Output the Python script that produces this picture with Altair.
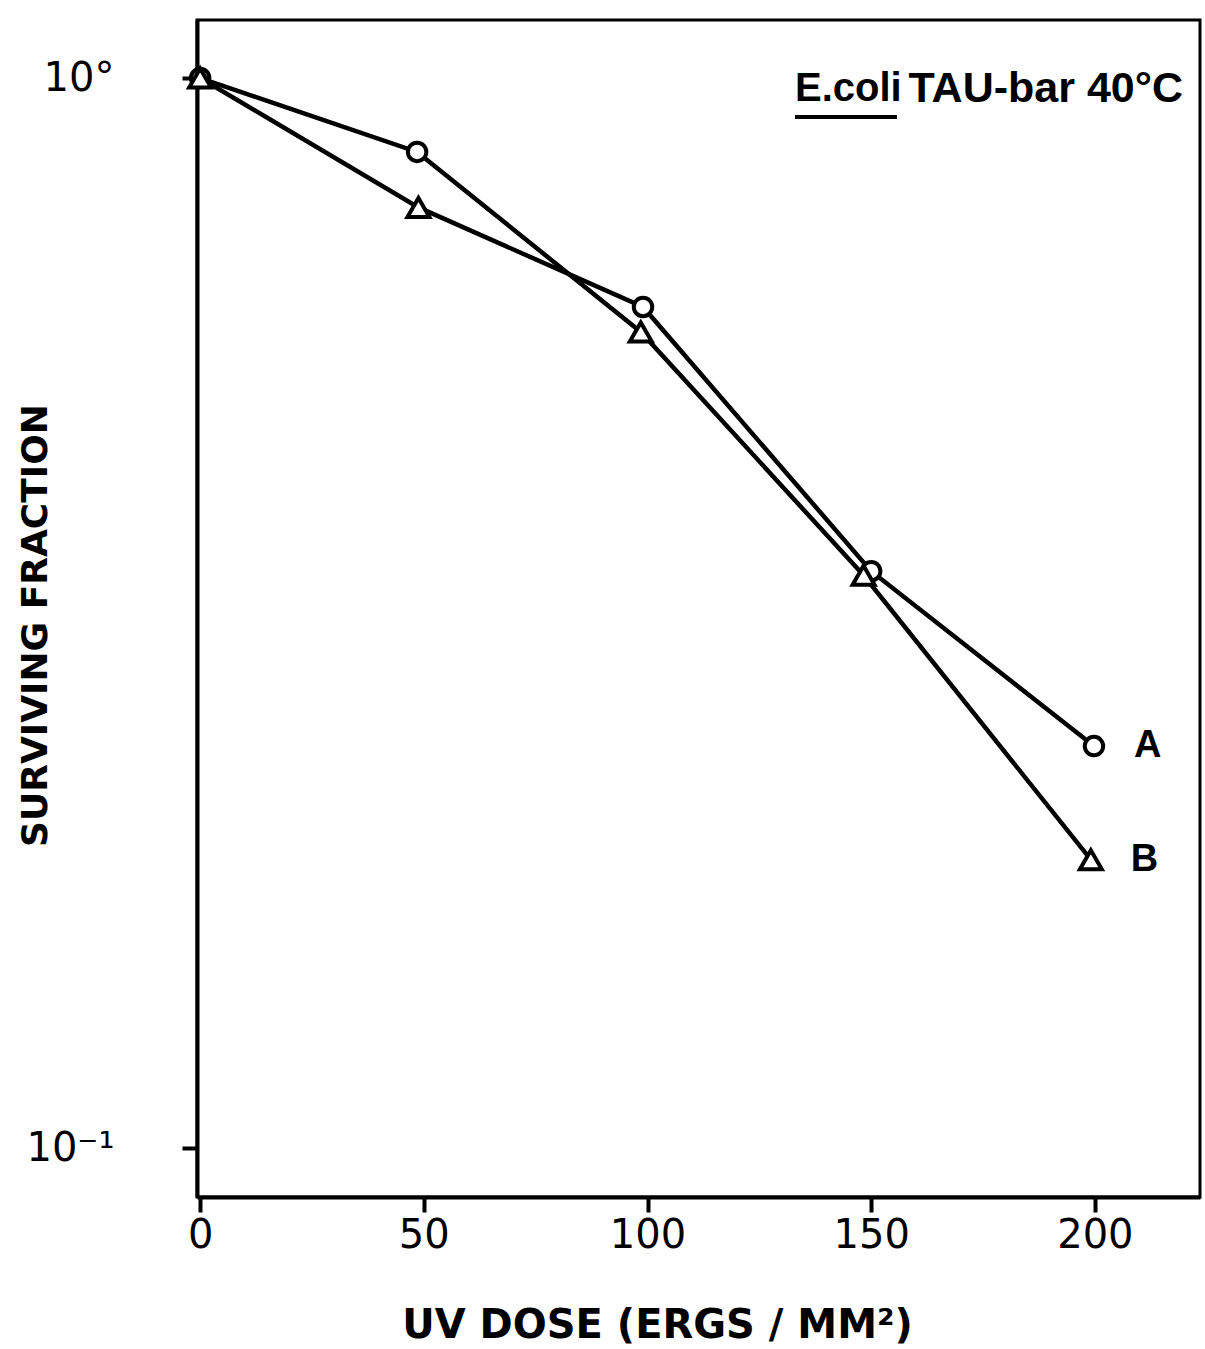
import altair as alt
import pandas as pd

# Data
dose_a = [0, 48.5, 99, 150, 199.8]          # circles (A)
surv_a = [1.0, 0.853, 0.611, 0.346, 0.2375]
dose_b = [0, 48.8, 98.5, 148.3, 199.1]      # triangles (B)
surv_b = [1.0, 0.757, 0.579, 0.343, 0.186]
series_names = ["A", "B"]
# In the original drawing the two connecting lines cross between 50 and 100:
# one line runs circle(50) -> triangle(100), the other triangle(50) -> circle(100)
path1_series = ["A", "A", "B", "B", "B"]
path2_series = ["B", "B", "A", "A", "A"]
y_tick_values = [0.1, 1.0]
x_tick_values = [0, 50, 100, 150, 200]
annotation_species = "E.coli"
annotation_rest = "TAU-bar 40°C"

pts = {"A": (dose_a, surv_a), "B": (dose_b, surv_b)}

df = pd.DataFrame(
    {
        "dose": dose_a + dose_b,
        "surv": surv_a + surv_b,
        "series": [series_names[0]] * len(dose_a) + [series_names[1]] * len(dose_b),
    }
)

rows = []
for pname, pser in (("p1", path1_series), ("p2", path2_series)):
    for i, s in enumerate(pser):
        rows.append({"path": pname, "idx": i, "dose": pts[s][0][i], "surv": pts[s][1][i]})
lines_df = pd.DataFrame(rows)

lab = pd.DataFrame(
    {
        "dose": [dose_a[-1], dose_b[-1]],
        "surv": [surv_a[-1], surv_b[-1]],
        "series": series_names,
    }
)

FONT = "DejaVu Sans"
ANN_FONT = "Liberation Sans"

x = alt.X(
    "dose:Q",
    scale=alt.Scale(domain=[-0.7, 223.5], nice=False, zero=False),
    axis=alt.Axis(
        values=x_tick_values,
        title="UV DOSE (ERGS / MM²)",
        titleFontSize=40,
        titleFontWeight="bold",
        titleFont=FONT,
        titleX=460,
        titleY=128,
        titleBaseline="middle",
        titleAlign="center",
        labelFontSize=40,
        labelFont=FONT,
        labelPadding=3,
        tickSize=15,
        grid=False,
    ),
)
y = alt.Y(
    "surv:Q",
    scale=alt.Scale(type="log", domain=[0.09, 1.133], nice=False),
    axis=alt.Axis(
        values=y_tick_values,
        labelExpr="datum.value >= 0.5 ? '10°' : '10⁻¹'",
        title="SURVIVING FRACTION",
        titleFontSize=36,
        titleFontWeight="bold",
        titleFont=FONT,
        titleAngle=270,
        titleX=-162,
        titleY=605,
        titleAlign="center",
        titleBaseline="middle",
        labelFontSize=40,
        labelFont=FONT,
        labelPadding=68,
        labelBaseline="middle",
        tickSize=15,
        grid=False,
    ),
)

lines = (
    alt.Chart(lines_df)
    .mark_line(color="black", strokeWidth=4.5)
    .encode(x=x, y=y, detail="path:N", order="idx:Q")
)

base = alt.Chart(df)
circles = (
    base.transform_filter(alt.datum.series == "A")
    .mark_point(shape="circle", size=340, filled=True, fill="white", stroke="black", strokeWidth=4, opacity=1)
    .encode(x=x, y=y)
)
triangles = (
    base.transform_filter(alt.datum.series == "B")
    .mark_point(shape="triangle-up", size=480, filled=True, fill="white", stroke="black", strokeWidth=4, opacity=1)
    .encode(x=x, y=y)
)

labels = (
    alt.Chart(lab)
    .mark_text(align="left", baseline="middle", dx=40, dy=0, fontSize=38, fontWeight="bold", font=ANN_FONT, color="black")
    .encode(x=x, y=y, text="series:N")
)

ann_df = pd.DataFrame({"a": [annotation_species], "b": [annotation_rest]})
ann1 = (
    alt.Chart(ann_df)
    .mark_text(align="left", baseline="middle", fontSize=40, fontWeight="bold", font=ANN_FONT, color="black")
    .encode(x=alt.value(598), y=alt.value(69), text="a:N")
)
ann2 = (
    alt.Chart(ann_df)
    .mark_text(align="right", baseline="middle", fontSize=43, fontWeight="bold", font=ANN_FONT, color="black")
    .encode(x=alt.value(986), y=alt.value(69), text="b:N")
)
underline = (
    alt.Chart(ann_df)
    .mark_rule(color="black", strokeWidth=4)
    .encode(x=alt.value(598), x2=alt.value(700), y=alt.value(97))
)

chart = (
    alt.layer(lines, circles, triangles, labels, ann1, ann2, underline)
    .properties(
        width=1003,
        height=1177,
        autosize=alt.AutoSizeParams(type="none"),
        padding={"left": 197, "top": 20, "right": 5, "bottom": 152},
        background="white",
    )
    .configure_view(stroke="black", strokeWidth=3)
    .configure_axis(
        domainColor="black",
        domainWidth=4,
        tickColor="black",
        tickWidth=4,
        labelColor="black",
        titleColor="black",
    )
)

chart.save("out.html", embed_options={"renderer": "svg", "actions": False})
